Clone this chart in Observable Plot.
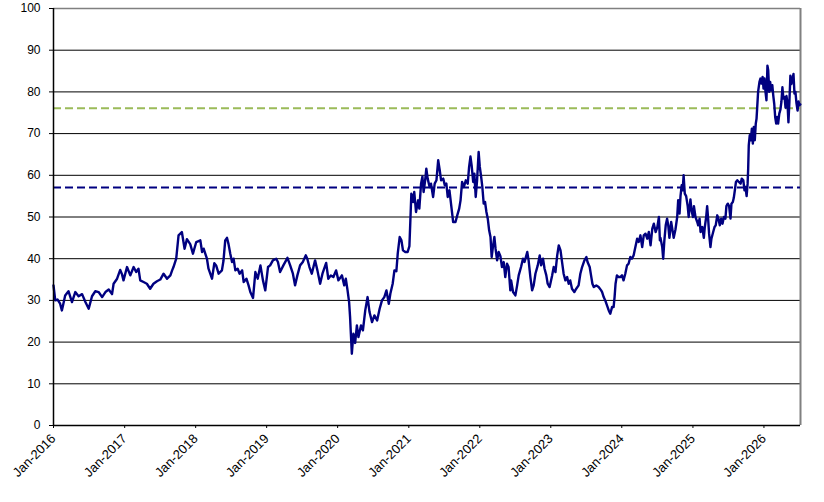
<!DOCTYPE html>
<html>
<head>
<meta charset="utf-8">
<script src="https://cdn.jsdelivr.net/npm/d3@7"></script>
<script src="https://cdn.jsdelivr.net/npm/@observablehq/plot@0.6"></script>
<style>
  html, body { margin: 0; padding: 0; background: #fff; }
  #chart { width: 824px; height: 502px; }
</style>
</head>
<body>
<div id="chart"></div>
<script>
// ---- Data ----
const dates = [
"2016-01-01","2016-01-10","2016-01-22","2016-02-04","2016-02-13","2016-02-20","2016-03-01","2016-03-18","2016-04-05","2016-04-22",
"2016-05-09","2016-05-27","2016-06-13","2016-06-30","2016-07-17","2016-08-03","2016-08-20","2016-09-07","2016-09-24","2016-10-11",
"2016-10-28","2016-11-05","2016-11-23","2016-12-09","2016-12-18","2016-12-26","2017-01-13","2017-01-30","2017-02-16","2017-03-01",
"2017-03-13","2017-03-22","2017-04-08","2017-04-25","2017-05-12","2017-05-29","2017-06-16","2017-07-03","2017-07-20","2017-08-07",
"2017-08-24","2017-09-02","2017-09-09","2017-09-23","2017-10-05","2017-10-22","2017-11-05","2017-11-17","2017-12-04","2017-12-18",
"2018-01-04","2018-01-25","2018-02-03","2018-02-11","2018-02-28","2018-03-08","2018-03-26","2018-04-07","2018-04-17","2018-04-29",
"2018-05-16","2018-05-24","2018-06-02","2018-06-11","2018-06-19","2018-06-28","2018-07-07","2018-07-15","2018-07-24","2018-08-05",
"2018-08-15","2018-08-28","2018-09-05","2018-09-19","2018-09-30","2018-10-09","2018-10-23","2018-11-04","2018-11-16","2018-11-30",
"2018-12-13","2018-12-25","2019-01-08","2019-01-19","2019-02-02","2019-02-19","2019-02-28","2019-03-11","2019-03-28","2019-04-18",
"2019-05-02","2019-05-16","2019-05-27","2019-06-08","2019-06-22","2019-07-06","2019-07-21","2019-07-29","2019-08-09","2019-08-21",
"2019-09-07","2019-09-19","2019-10-03","2019-10-15","2019-11-03","2019-11-14","2019-11-27","2019-12-10","2019-12-24","2020-01-05",
"2020-01-23","2020-02-04","2020-02-12","2020-02-21","2020-02-29","2020-03-05","2020-03-09","2020-03-14","2020-03-22","2020-03-31",
"2020-04-09","2020-04-17","2020-04-30","2020-05-10","2020-05-22","2020-06-03","2020-06-13","2020-06-26","2020-07-08","2020-07-22",
"2020-08-04","2020-08-16","2020-08-28","2020-09-08","2020-09-20","2020-09-28","2020-10-10","2020-10-19","2020-10-29","2020-11-05",
"2020-11-15","2020-11-24","2020-12-02","2020-12-14","2020-12-26","2021-01-04","2021-01-09","2021-01-14","2021-01-23","2021-01-29",
"2021-02-07","2021-02-18","2021-02-24","2021-03-05","2021-03-12","2021-03-18","2021-03-26","2021-04-01","2021-04-08","2021-04-18",
"2021-04-25","2021-05-06","2021-05-14","2021-05-23","2021-06-01","2021-06-09","2021-06-16","2021-06-27","2021-07-05","2021-07-13",
"2021-07-20","2021-07-29","2021-08-07","2021-08-17","2021-08-29","2021-09-07","2021-09-17","2021-09-24","2021-10-02","2021-10-11",
"2021-10-21","2021-10-31","2021-11-07","2021-11-14","2021-11-20","2021-11-28","2021-12-04","2021-12-11","2021-12-18","2021-12-26",
"2022-01-01","2022-01-08","2022-01-14","2022-01-21","2022-01-28","2022-02-04","2022-02-11","2022-02-18","2022-02-25","2022-03-03",
"2022-03-10","2022-03-17","2022-03-23","2022-03-31","2022-04-08","2022-04-17","2022-04-25","2022-05-04","2022-05-12","2022-05-21",
"2022-05-29","2022-06-07","2022-06-11","2022-06-21","2022-07-03","2022-07-12","2022-07-20","2022-08-01","2022-08-11","2022-08-19",
"2022-09-02","2022-09-09","2022-09-18","2022-09-27","2022-10-05","2022-10-14","2022-10-26","2022-11-05","2022-11-12","2022-11-22",
"2022-11-30","2022-12-09","2022-12-16","2022-12-26","2023-01-08","2023-01-16","2023-01-25","2023-02-03","2023-02-11","2023-02-20",
"2023-02-28","2023-03-08","2023-03-17","2023-03-26","2023-04-03","2023-04-11","2023-04-20","2023-05-02","2023-05-12","2023-05-24",
"2023-06-02","2023-06-11","2023-06-23","2023-07-03","2023-07-09","2023-07-20","2023-07-27","2023-08-03","2023-08-10","2023-08-23",
"2023-09-04","2023-09-17","2023-09-22","2023-09-30","2023-10-08","2023-10-17","2023-10-26","2023-11-03","2023-11-12","2023-11-20",
"2023-11-25","2023-11-30","2023-12-07","2023-12-16","2023-12-24","2024-01-02","2024-01-10","2024-01-19","2024-01-28","2024-02-05",
"2024-02-14","2024-02-22","2024-03-02","2024-03-11","2024-03-20","2024-03-28","2024-04-06","2024-04-15","2024-04-23","2024-05-02",
"2024-05-11","2024-05-19","2024-05-28","2024-06-06","2024-06-14","2024-06-23","2024-07-02","2024-07-10","2024-07-15","2024-07-18",
"2024-07-27","2024-08-01","2024-08-07","2024-08-14","2024-08-21","2024-08-27","2024-09-02","2024-09-11","2024-09-18","2024-09-24",
"2024-10-03","2024-10-12","2024-10-17","2024-10-24","2024-10-29","2024-11-04","2024-11-09","2024-11-14","2024-11-20","2024-11-27",
"2024-12-05","2024-12-10","2024-12-19","2024-12-24","2025-01-01","2025-01-06","2025-01-14","2025-01-23","2025-01-28","2025-02-04",
"2025-02-09","2025-02-18","2025-02-26","2025-03-03","2025-03-10","2025-03-15","2025-03-20","2025-03-25","2025-04-01","2025-04-06",
"2025-04-15","2025-04-22","2025-04-28","2025-05-06","2025-05-12","2025-05-19","2025-05-26","2025-06-02","2025-06-09","2025-06-17",
"2025-06-22","2025-06-29","2025-07-06","2025-07-13","2025-07-18","2025-07-25","2025-07-30","2025-08-05","2025-08-10","2025-08-17",
"2025-08-25","2025-09-03","2025-09-09","2025-09-17","2025-09-23","2025-09-28","2025-10-04","2025-10-09","2025-10-12","2025-10-15",
"2025-10-20","2025-10-25","2025-10-31","2025-11-05","2025-11-10","2025-11-15","2025-11-20","2025-11-24","2025-11-27","2025-12-02",
"2025-12-09","2025-12-14","2025-12-19","2025-12-25","2025-12-30","2026-01-04","2026-01-09","2026-01-14","2026-01-19","2026-01-23",
"2026-01-28","2026-02-02","2026-02-07","2026-02-13","2026-02-18","2026-02-23","2026-02-28","2026-03-05","2026-03-10","2026-03-15",
"2026-03-21","2026-03-27","2026-04-01","2026-04-06","2026-04-11","2026-04-17","2026-04-22","2026-04-27","2026-05-02","2026-05-07",
"2026-05-12","2026-05-17","2026-05-22","2026-05-28","2026-06-02","2026-06-07","2026-06-12","2026-06-17","2026-06-23","2026-06-28",
"2026-07-03","2026-07-07"
];
const values = [
33.6,30,30.2,29.2,27.6,29,31.2,32.2,29.6,32,
31,31.5,29.6,28,31,32.2,32,30.8,32,32.6,
31.5,34,35.2,37.3,36.3,34.8,38,36,38,36.8,
37.6,34.8,34.4,34,32.8,34,34.6,35,36.4,35.2,
36,37.2,38,40,45.6,46.4,42.4,44.7,43.5,41.2,
44,44.4,41.6,42.4,40,37.6,35.2,38.9,38.3,36.4,
37.2,39.5,44.4,45,43.5,41.2,39.2,40,37.2,37.6,
36.4,37.2,34.4,35.2,33.6,32,30.6,36.8,35.2,38.4,
34.8,32.4,38,38.4,39.6,40,39.2,36.8,38.4,40.2,
38.4,36.4,33.6,36,38.4,39.2,40.8,40,38,36.4,
39.6,37.2,34,36.4,39,35.2,36,35.6,37.2,34.8,
36,33.6,35.2,32.4,29.6,26,22,17.2,22,19.8,
24,21.2,24,22.8,27.6,30.8,27.2,24.8,26.4,25.2,
28,30,30.8,32.4,29.2,31.6,34,37.2,37,41.2,
45.2,44.4,42,41.6,41.6,43,49.2,55.6,53.6,56,
51.2,54,52,58,59.7,56,58.8,61.6,59.2,57.2,
58,54.8,58,58.8,63.6,61.2,58.8,59.2,57.6,58,
54.8,56.4,52.8,48.8,48.8,50.4,52,54,58.4,57.2,
58.8,58,62,64.5,62.4,58.4,60.4,54.8,58.8,65.6,
62,59.6,57.2,53.2,53.6,51.2,49.6,46.8,45.2,40.4,
43,45.2,42.4,39.6,41.6,40.6,38,39.2,35.6,38.8,
38,32.4,34.8,32,31.2,33.6,36,38,40,39.2,
41.6,39.6,35.6,32.4,33.6,36.4,38.4,40.8,38.4,40,
37.6,36,34,33.2,36,38,36.8,40.8,43.2,42,
39.2,36.4,34.8,35.6,34,34.8,32.8,32,32.8,33.6,
36.4,38,39.6,40.4,39.2,38,36,34,33.2,33.6,
33.2,32.4,32,30.8,30,28.8,27.6,26.8,28.4,28.4,
30.8,34,36,35.6,35.6,36,34.8,36.4,38.4,38.8,
40.4,40,40.8,42.8,44.8,44,45.6,42.8,45.6,46,
44.8,46.4,43.2,47.2,48.4,46.4,47.6,50,44.4,45,
42.8,40,44.4,48,49.6,48,45,48.8,46.8,45,
47,50,54,50.8,55,57.6,56.4,60,55.6,55,
52.6,50,54.2,51.8,50,52.6,50,48.8,48,49.6,
46.4,47.6,45,47.6,50,52.6,49.6,46,42.8,44.8,
46.4,47.6,48,50.4,49.6,48,49.6,48.4,50,49.6,
52.6,53.2,52.6,49.6,53.2,53.6,54.6,56.6,58.4,58.8,
58.4,58,59.2,58.8,56.4,57.2,55,58,61.6,67.2,
69.6,68.4,71.2,67.6,71.6,68.4,72.4,73.6,76,80,
82.4,83.2,82,83.6,80.8,83.2,80,78,86.3,85.2,
80,82.4,80.4,81.6,79.1,77.1,73.9,72.4,74,72.4,
74.8,75.8,77.7,81.1,78.4,78.8,76.2,79,77.4,72.7,
77.7,83.9,81.9,83.1,84.3,79.6,80,77.4,75.5,77.7,
76.8,77
];
const refValues = [76.1, 57.1];
const refColors = ["#9BBB59", "#000080"];
const yTicks = [0, 10, 20, 30, 40, 50, 60, 70, 80, 90, 100];
const gridTicks = [10, 20, 30, 40, 50, 60, 70, 80, 90];
const xTickDates = ["2016-01-01","2017-01-01","2018-01-01","2019-01-01","2020-01-01","2021-01-01",
                    "2022-01-01","2023-01-01","2024-01-01","2025-01-01","2026-01-01"];
const xDomain = ["2016-01-01", "2026-07-08"];

// ---- Build ----
const data = dates.map((d, i) => ({date: new Date(d + "T00:00:00Z"), value: values[i]}));
const xStart = new Date(xDomain[0] + "T00:00:00Z");
const xEnd = new Date(xDomain[1] + "T00:00:00Z");
const fmt = d3.utcFormat("%b-%Y");

const chart = Plot.plot({
  width: 824,
  height: 502,
  marginLeft: 53,
  marginRight: 24,
  marginTop: 8,
  marginBottom: 77,
  style: {fontFamily: "'Liberation Sans', Arial, sans-serif", fontSize: "12px", color: "black", background: "white"},
  x: {type: "utc", domain: [xStart, xEnd]},
  y: {domain: [0, 100]},
  marks: [
    Plot.ruleY(gridTicks, {stroke: "black", strokeWidth: 1}),
    Plot.ruleY([100], {stroke: "#808080", strokeWidth: 1.5}),
    Plot.ruleX([xEnd], {stroke: "#808080", strokeWidth: 2}),
    Plot.ruleY(refValues, {y: d => d, stroke: (d, i) => refColors[i], strokeWidth: 2, strokeDasharray: "8,4"}),
    Plot.lineY(data, {x: "date", y: "value", stroke: "#000080", strokeWidth: 2.4}),
    Plot.ruleY([0], {stroke: "black", strokeWidth: 1.5}),
    Plot.ruleX([xStart], {stroke: "black", strokeWidth: 1.5}),
    Plot.axisY(yTicks, {tickSize: 4, tickPadding: 9, fontSize: 12, label: null}),
    Plot.axisX(xTickDates.map(d => new Date(d + "T00:00:00Z")), {
      tickSize: 3, tickPadding: 8, tickRotate: -45, tickFormat: fmt, fontSize: 13, label: null
    })
  ]
});
document.getElementById("chart").appendChild(chart);
</script>
</body>
</html>
